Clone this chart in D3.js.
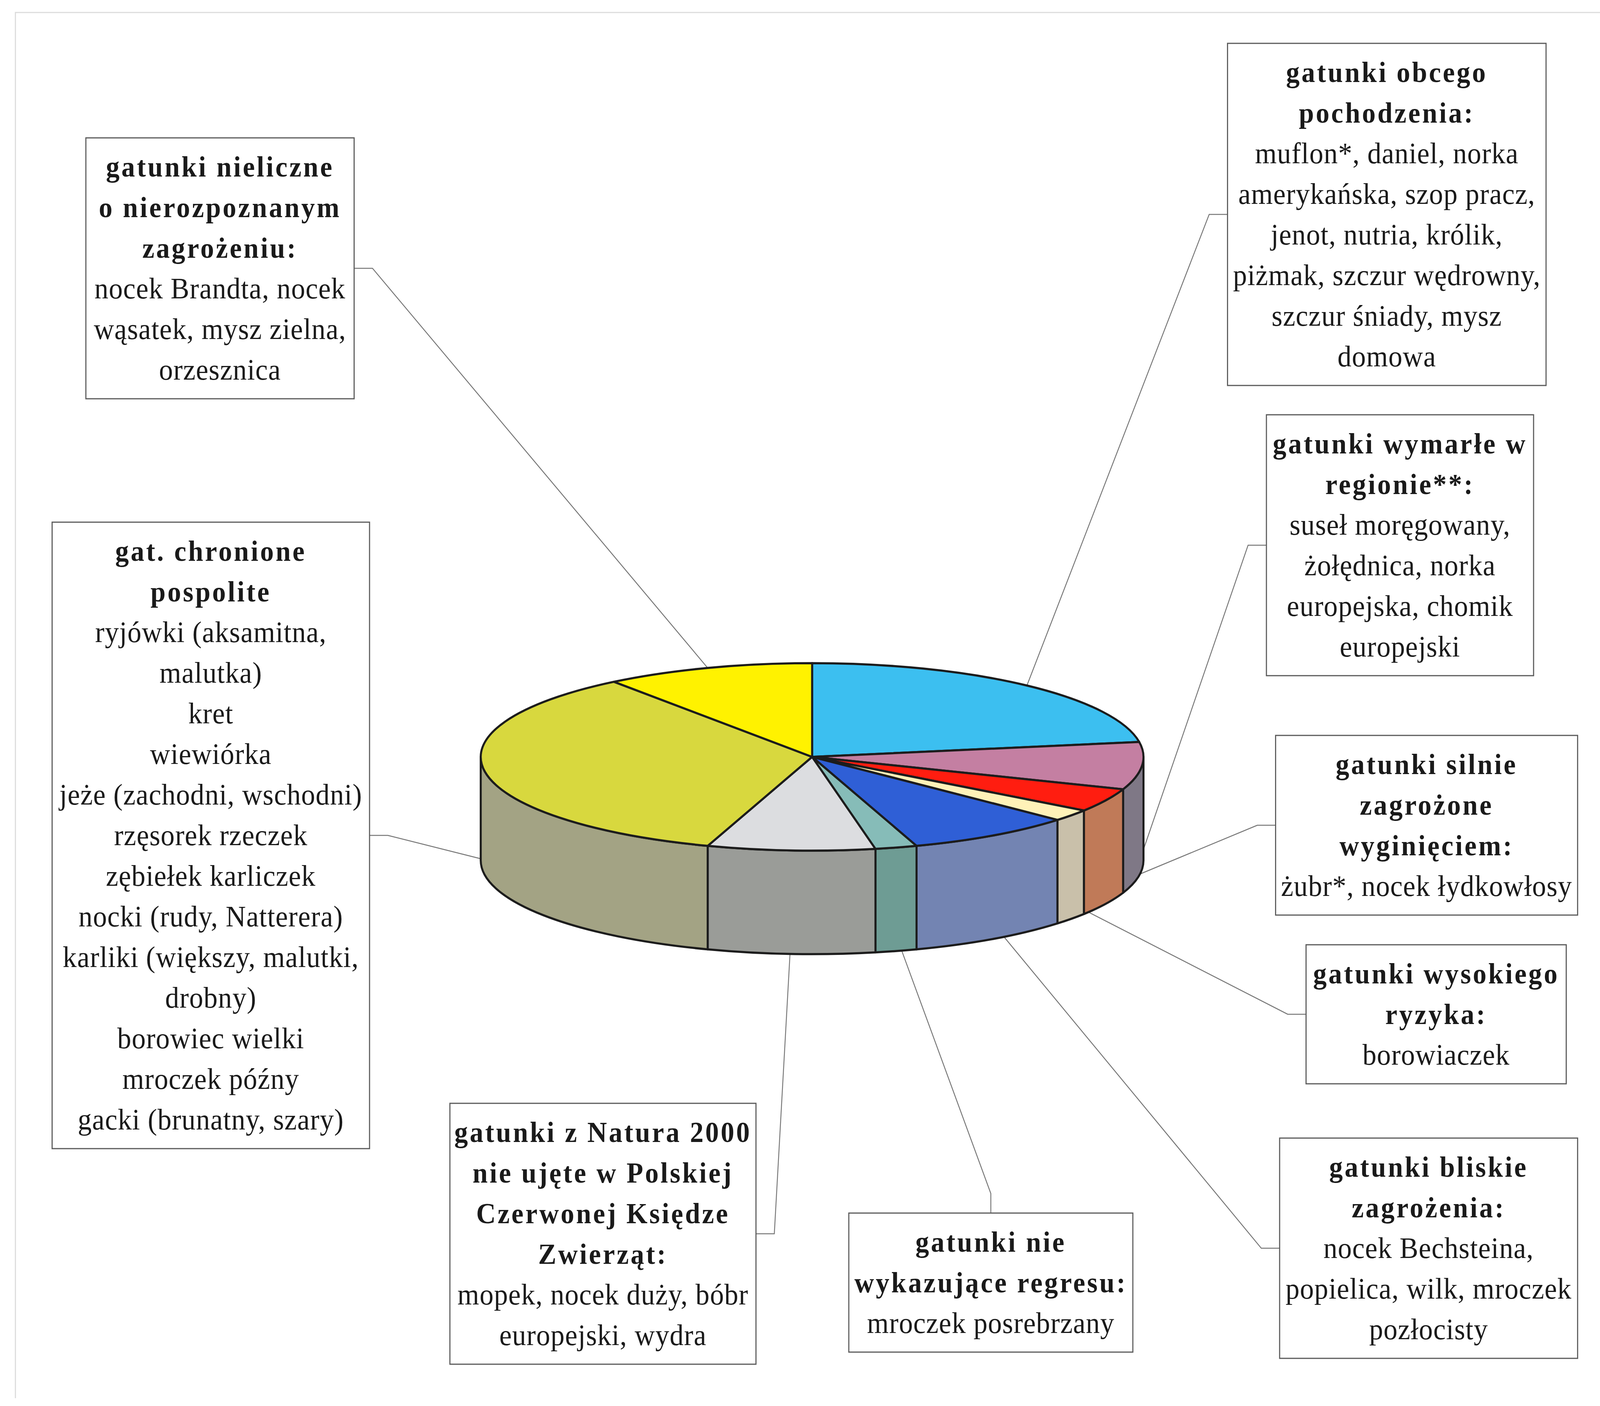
<!DOCTYPE html>
<html>
<head>
<meta charset="utf-8">
<script src="https://cdn.jsdelivr.net/npm/d3@7"></script>
<style>
  html, body { margin: 0; padding: 0; background: #fff; overflow: hidden; }
  svg { display: block; }
</style>
</head>
<body>
<svg id="chart"></svg>
<script>
// Slices, clockwise from 12 o'clock
const categories = [
  'obcego pochodzenia', 'wymarłe w regionie', 'silnie zagrożone wyginięciem',
  'wysokiego ryzyka', 'bliskie zagrożenia', 'nie wykazujące regresu',
  'Natura 2000', 'chronione pospolite', 'nieliczne o nierozpoznanym zagrożeniu'
];
// slice sizes (species counts)
const values = [11, 4, 2, 1, 4, 1, 4, 17, 5];

const headings = [
  ['gatunki obcego', 'pochodzenia:'],
  ['gatunki wymarłe w', 'regionie**:'],
  ['gatunki silnie', 'zagrożone', 'wyginięciem:'],
  ['gatunki wysokiego', 'ryzyka:'],
  ['gatunki bliskie', 'zagrożenia:'],
  ['gatunki nie', 'wykazujące regresu:'],
  ['gatunki z Natura 2000', 'nie ujęte w Polskiej', 'Czerwonej Księdze', 'Zwierząt:'],
  ['gat. chronione', 'pospolite'],
  ['gatunki nieliczne', 'o nierozpoznanym', 'zagrożeniu:']
];

const species = [
  ['muflon*, daniel, norka', 'amerykańska, szop pracz,', 'jenot, nutria, królik,',
   'piżmak, szczur wędrowny,', 'szczur śniady, mysz', 'domowa'],
  ['suseł moręgowany,', 'żołędnica, norka', 'europejska, chomik', 'europejski'],
  ['żubr*, nocek łydkowłosy'],
  ['borowiaczek'],
  ['nocek Bechsteina,', 'popielica, wilk, mroczek', 'pozłocisty'],
  ['mroczek posrebrzany'],
  ['mopek, nocek duży, bóbr', 'europejski, wydra'],
  ['ryjówki (aksamitna,', 'malutka)', 'kret', 'wiewiórka', 'jeże (zachodni, wschodni)',
   'rzęsorek rzeczek', 'zębiełek karliczek', 'nocki (rudy,  Natterera)',
   'karliki (większy, malutki,', 'drobny)', 'borowiec wielki', 'mroczek późny',
   'gacki (brunatny, szary)'],
  ['nocek Brandta, nocek', 'wąsatek, mysz zielna,', 'orzesznica']
];

// styling
const topColors  = ['#3cbff0', '#c47fa2', '#ff1d10', '#fff2b8', '#2f5fd6',
                    '#86bcb8', '#dcdde0', '#d8d83e', '#fff200'];
const sideColors = ['#3090b8', '#7f7886', '#c07a58', '#c9c0aa', '#7384b2',
                    '#6e9c94', '#9a9c98', '#a3a384', '#c8be00'];

// label box placement: left x, top y, width, side the leader leaves from
const boxLayout = [
  { x: 3345, y: 111,  w: 868, side: 'left' },
  { x: 3451, y: 1062, w: 728, side: 'left' },
  { x: 3476, y: 1883, w: 823, side: 'left' },
  { x: 3559, y: 2419, w: 709, side: 'left' },
  { x: 3487, y: 2914, w: 812, side: 'left' },
  { x: 2313, y: 3106, w: 774, side: 'top' },
  { x: 1226, y: 2825, w: 834, side: 'right' },
  { x: 142,  y: 1337, w: 865, side: 'right' },
  { x: 234,  y: 353,  w: 731, side: 'right' }
];

const W = 4360, H = 3600;
const pie3d = { cx: 2213, cy: 1938, rx: 903, ry: 240, depth: 265 };
const LINE_H = 104, PAD = 22, STUB = 50;
const FONT = '"Liberation Serif", "Times New Roman", serif';

// fit the 4360x3600 drawing into whatever viewport we get
const svg = d3.select('#chart')
  .attr('width', window.innerWidth || W)
  .attr('height', window.innerHeight || H)
  .attr('viewBox', `0 0 ${W} ${H}`)
  .attr('preserveAspectRatio', 'none');

svg.append('rect').attr('width', W).attr('height', H).attr('fill', '#fff');

// faint scan frame
svg.append('path')
  .attr('d', `M42,${H - 20} L42,32 L${W},32`)
  .attr('fill', 'none').attr('stroke', '#dcdcdc').attr('stroke-width', 3);

const arcs = d3.pie().sort(null).value(d => d)(values);

function edge(a, dy = 0) {
  return [pie3d.cx + pie3d.rx * Math.sin(a), pie3d.cy - pie3d.ry * Math.cos(a) + dy];
}

function topPath(d) {
  const p0 = edge(d.startAngle), p1 = edge(d.endAngle);
  const large = d.endAngle - d.startAngle > Math.PI ? 1 : 0;
  return `M${pie3d.cx},${pie3d.cy} L${p0} A${pie3d.rx},${pie3d.ry} 0 ${large} 1 ${p1} Z`;
}

function wallPath(d) {
  const s = Math.max(d.startAngle, Math.PI / 2);
  const e = Math.min(d.endAngle, Math.PI * 1.5);
  if (e <= s) return null;
  const a = edge(s), b = edge(e), c = edge(e, pie3d.depth), f = edge(s, pie3d.depth);
  return `M${a} A${pie3d.rx},${pie3d.ry} 0 0 1 ${b} L${c} A${pie3d.rx},${pie3d.ry} 0 0 0 ${f} Z`;
}

// leader lines (drawn under pie)
const leaders = svg.append('g').attr('class', 'leaders');
arcs.forEach((d, i) => {
  const m = (d.startAngle + d.endAngle) / 2;
  const anchor = Math.cos(m) >= 0 ? edge(m) : edge(m, pie3d.depth * 0.85);
  const b = boxLayout[i];
  const hBox = (headings[i].length + species[i].length) * LINE_H + PAD * 2;
  let p0, p1;
  if (b.side === 'left') {
    p0 = [b.x, b.y + hBox / 2]; p1 = [b.x - STUB, b.y + hBox / 2];
  } else if (b.side === 'right') {
    p0 = [b.x + b.w, b.y + hBox / 2]; p1 = [b.x + b.w + STUB, b.y + hBox / 2];
  } else {
    p0 = [b.x + b.w / 2, b.y]; p1 = [b.x + b.w / 2, b.y - STUB];
  }
  leaders.append('path')
    .attr('d', d3.line()([p0, p1, anchor]))
    .attr('fill', 'none')
    .attr('stroke', '#767676')
    .attr('stroke-width', 2.5);
});

// pie walls then top faces
const pieG = svg.append('g').attr('class', 'pie');
pieG.selectAll('path.wall')
  .data(arcs.filter(d => wallPath(d)))
  .enter().append('path')
  .attr('class', 'wall')
  .attr('d', wallPath)
  .attr('fill', d => sideColors[d.index])
  .attr('stroke', '#1c1c1c')
  .attr('stroke-width', 5.5)
  .attr('stroke-linejoin', 'round');

pieG.selectAll('path.top')
  .data(arcs)
  .enter().append('path')
  .attr('class', 'top')
  .attr('d', topPath)
  .attr('fill', d => topColors[d.index])
  .attr('stroke', '#1c1c1c')
  .attr('stroke-width', 5.5)
  .attr('stroke-linejoin', 'round');

// label boxes
boxLayout.forEach((b, i) => {
  const lines = headings[i].map(t => ({ t, bold: true }))
    .concat(species[i].map(t => ({ t, bold: false })));
  const hBox = lines.length * LINE_H + PAD * 2;
  const g = svg.append('g').attr('class', 'label-box');
  g.append('rect')
    .attr('x', b.x).attr('y', b.y)
    .attr('width', b.w).attr('height', hBox)
    .attr('fill', '#fff')
    .attr('stroke', '#5a5a5a')
    .attr('stroke-width', 3);
  g.selectAll('text')
    .data(lines)
    .enter().append('text')
    .attr('x', b.x + b.w / 2)
    .attr('y', (d, k) => b.y + PAD + LINE_H / 2 + k * LINE_H + 25)
    .attr('text-anchor', 'middle')
    .attr('font-family', FONT)
    .attr('font-size', d => d.bold ? 74 : 76)
    .attr('font-weight', d => d.bold ? 'bold' : 'normal')
    .attr('letter-spacing', d => d.bold ? 5 : 1.2)
    .attr('fill', '#1a1a1a')
    .text(d => d.t);
});
</script>
</body>
</html>
